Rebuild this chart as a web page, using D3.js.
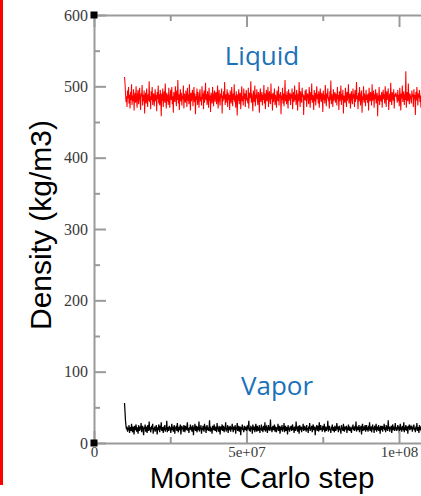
<!DOCTYPE html>
<html>
<head>
<meta charset="utf-8">
<script src="https://cdn.jsdelivr.net/npm/d3@7"></script>
<style>
  html, body { margin: 0; padding: 0; background: #fff; }
  svg { display: block; }
</style>
</head>
<body>
<svg id="chart" width="421" height="496"></svg>
<script>
// Monte Carlo run: sampled every stepSize steps, starting at firstStep
const firstStep = 1e7;
const stepSize = 1.65e5;

// Liquid phase density (kg/m3)
const liquidDensity = [
  513,505,490,478,486,471,494,483,499,476,488,469,492,481,503,474,487,479,496,466,485,491,477,500,482,470,489,495,475,484,
  498,480,467,490,486,502,473,488,479,494,462,485,491,476,497,483,471,489,480,507,478,486,468,493,481,499,474,487,490,472,
  484,496,479,488,465,492,482,501,476,489,473,495,485,458,490,480,497,471,486,493,477,504,483,469,491,479,488,474,498,482,
  470,487,495,481,499,475,486,463,492,484,478,500,488,472,494,481,509,476,489,467,485,496,479,491,473,487,482,501,469,490,
  483,477,494,486,471,498,480,489,475,503,484,466,491,479,487,495,472,485,499,478,490,461,486,481,497,474,492,483,470,488,
  496,479,485,473,500,482,490,468,494,477,486,505,481,489,474,493,484,470,498,480,487,464,491,483,476,499,485,472,489,494,
  478,488,492,475,486,501,469,483,495,480,473,490,484,497,462,487,479,493,482,506,474,489,477,485,496,471,491,481,488,467,
  494,483,476,499,485,472,490,481,503,478,487,470,493,484,459,489,480,496,475,488,491,468,484,500,479,486,473,497,482,490,
  471,487,495,480,484,476,498,469,491,483,486,507,477,490,481,465,494,485,478,501,472,488,483,496,480,474,492,487,463,489,
  497,478,485,492,473,488,481,502,476,490,468,486,495,479,484,499,471,487,493,480,475,504,482,489,466,491,478,485,497,474,
  488,482,470,494,486,479,500,473,489,484,492,461,487,481,498,476,490,472,485,509,479,488,475,493,483,469,496,480,487,491,
  474,489,483,497,468,485,492,478,501,481,488,474,495,484,466,490,479,506,486,471,493,482,477,498,485,489,460,487,481,494,
  480,496,471,487,490,483,475,499,486,470,492,481,504,477,488,484,467,495,479,491,473,486,500,482,489,476,493,470,485,497,
  483,478,491,486,464,494,481,488,476,502,487,472,490,483,497,479,485,469,493,481,508,475,489,484,471,496,480,487,492,477,
  490,485,473,499,482,488,467,493,479,486,501,474,489,481,495,462,487,483,477,498,485,471,492,480,488,503,476,484,490,469,
  486,493,480,475,497,483,489,471,495,478,484,506,482,487,468,491,479,499,485,473,488,494,463,486,481,500,477,490,483,472,
  495,481,488,477,490,466,498,484,479,492,487,473,503,480,485,494,470,489,482,496,476,486,491,458,487,480,499,474,488,484,
  479,492,470,486,495,482,489,476,500,485,471,493,481,488,497,467,484,490,478,505,483,474,492,486,480,496,469,489,485,491,
  489,484,477,495,480,488,472,498,486,466,490,483,501,478,487,493,474,489,481,521,470,486,492,479,504,484,475,490,487,482,
  476,494,485,489,471,496,482,488,460,492,480,499,486,473,490,484,495,478,487,470,493,483,498,481,486,475,491,488,479,494
];

// Vapor phase density (kg/m3)
const vaporDensity = [
  56,44,31,24,19,23,16,21,18,25,14,20,22,17,27,19,15,23,20,12,24,18,21,26,16,22,19,13,25,20,
  17,23,19,28,15,21,24,18,11,22,20,26,16,23,19,14,25,21,17,30,18,22,15,20,24,19,27,13,21,18,
  23,16,20,25,19,12,22,18,26,21,15,24,19,29,17,22,20,14,23,18,25,16,21,19,31,15,22,20,17,24,
  19,22,14,21,27,18,23,16,20,25,13,22,19,24,17,28,20,15,21,23,18,26,12,20,24,19,22,16,25,21,
  15,24,20,18,23,29,17,21,14,22,19,26,18,23,16,20,25,11,22,19,27,17,21,24,15,20,23,18,30,16,
  22,19,25,13,21,18,24,20,16,27,19,23,14,21,25,18,22,17,20,32,16,23,19,21,13,24,20,18,26,22,
  17,21,23,15,28,19,22,16,24,20,12,23,18,21,26,17,20,24,15,22,19,29,16,21,18,25,14,23,20,19,
  24,16,22,19,27,21,15,23,18,20,25,13,22,19,28,17,21,24,16,20,23,11,22,19,26,18,21,15,24,20,
  18,23,20,14,25,19,22,31,17,21,16,24,19,22,13,26,20,18,23,15,21,27,19,16,24,20,22,17,25,14,
  21,19,26,17,22,15,24,20,18,29,16,21,23,19,14,22,25,18,20,17,33,19,22,15,21,24,18,20,26,16,
  23,20,15,22,19,27,17,21,24,13,20,23,18,25,16,22,19,28,15,21,24,17,20,22,12,25,19,21,16,23,
  19,24,17,21,26,18,22,14,23,20,17,30,19,22,16,24,21,13,25,18,20,23,15,22,19,27,17,21,24,18,
  22,16,25,19,21,14,23,20,28,17,22,19,24,15,21,26,18,20,23,11,22,19,25,17,21,24,16,29,20,18,
  25,19,21,16,24,22,18,27,15,20,23,17,22,19,31,16,21,24,18,20,14,23,19,26,17,22,20,15,24,21,
  17,22,28,19,23,15,21,24,18,20,13,25,19,22,17,27,20,16,23,21,19,24,14,22,18,26,20,17,23,19,
  21,14,23,20,26,18,22,17,24,19,30,16,21,23,18,20,25,15,22,19,24,12,21,27,17,23,20,18,25,16,
  20,25,18,22,16,24,19,29,17,21,23,15,20,26,19,22,14,24,18,21,27,16,23,20,19,25,17,22,13,24,
  18,21,24,16,23,20,27,18,22,15,25,19,21,17,32,20,23,16,22,19,24,14,21,26,18,20,23,17,28,19,
  22,17,20,25,19,23,14,21,27,18,22,16,24,20,19,29,15,22,18,25,21,17,23,13,24,20,26,18,21,23,
  19,24,16,22,20,26,18,21,15,23,19,28,17,22,20,14,25,21,18,23,16,24,20,27,19,22,17,21,25,18
];

// Axis ticks and their labels
const xMajorTicks = [0, 5e7, 1e8];
const xTickLabels = ["0", "5e+07", "1e+08"];
const xMinorTicks = [2.5e7, 7.5e7];
const yMajorTicks = [0, 100, 200, 300, 400, 500, 600];
const yTickLabels = ["0", "100", "200", "300", "400", "500", "600"];
const yMinorTicks = [50, 150, 250, 350, 450, 550];

const seriesLabels = ["Liquid", "Vapor"];
const xTitle = "Monte Carlo step";
const yTitle = "Density (kg/m3)";

const svg = d3.select("#chart");
const plotLeft = 94, plotTop = 15, plotBottom = 443;

const x = d3.scaleLinear().domain([0, 1.5e8]).range([plotLeft, plotLeft + 152.5 * 3]);
const y = d3.scaleLinear().domain([0, 600]).range([plotBottom, plotTop]);

const axisGrey = "#9a9a9a";

// red frame edge on the left
svg.append("line")
  .attr("x1", 1.5).attr("x2", 1.5).attr("y1", 0).attr("y2", 485)
  .attr("stroke", "#ff0000").attr("stroke-width", 3);

// data lines, clipped to the plot box
svg.append("clipPath").attr("id", "plotClip")
  .append("rect").attr("x", plotLeft).attr("y", plotTop)
  .attr("width", x(1.5e8) - plotLeft).attr("height", plotBottom - plotTop);

const line = d3.line()
  .x((d, i) => x(firstStep + i * stepSize))
  .y(d => y(d));

const plot = svg.append("g").attr("clip-path", "url(#plotClip)");
plot.append("path").datum(liquidDensity)
  .attr("d", line).attr("fill", "none")
  .attr("stroke", "#ff0000").attr("stroke-width", 1.05);
plot.append("path").datum(vaporDensity)
  .attr("d", line).attr("fill", "none")
  .attr("stroke", "#000000").attr("stroke-width", 1.25);

function styleAxis(g) {
  g.selectAll(".domain").attr("stroke", axisGrey).attr("stroke-width", 2);
  g.selectAll(".tick line").attr("stroke", axisGrey).attr("stroke-width", 2);
  g.selectAll(".tick text")
    .attr("font-family", "'Liberation Serif', 'DejaVu Serif', serif")
    .attr("font-size", 16).attr("fill", "#3a3a3a");
}

// left axis
const yAxis = svg.append("g").attr("transform", `translate(${plotLeft},0)`)
  .call(d3.axisLeft(y).tickValues(yMajorTicks)
    .tickFormat((d, i) => yTickLabels[i]).tickSize(-12).tickSizeOuter(0).tickPadding(6));
styleAxis(yAxis);
svg.append("g").attr("transform", `translate(${plotLeft},0)`)
  .call(d3.axisLeft(y).tickValues(yMinorTicks).tickFormat("").tickSize(-6).tickSizeOuter(0))
  .call(g => { g.select(".domain").remove(); styleAxis(g); });

// bottom axis
const xAxis = svg.append("g").attr("transform", `translate(0,${plotBottom})`)
  .call(d3.axisBottom(x).tickValues(xMajorTicks)
    .tickFormat((d, i) => xTickLabels[i]).tickSize(-12).tickSizeOuter(0).tickPadding(3));
styleAxis(xAxis);
xAxis.selectAll(".tick text").attr("dy", "0.72em").attr("font-size", 15);
svg.append("g").attr("transform", `translate(0,${plotBottom})`)
  .call(d3.axisBottom(x).tickValues(xMinorTicks).tickFormat("").tickSize(-6).tickSizeOuter(0))
  .call(g => { g.select(".domain").remove(); styleAxis(g); });

// top axis (no labels)
svg.append("g").attr("transform", `translate(0,${plotTop})`)
  .call(d3.axisTop(x).tickValues(xMajorTicks).tickFormat("").tickSize(-12).tickSizeOuter(0))
  .call(styleAxis);
svg.append("g").attr("transform", `translate(0,${plotTop})`)
  .call(d3.axisTop(x).tickValues(xMinorTicks).tickFormat("").tickSize(-6).tickSizeOuter(0))
  .call(g => { g.select(".domain").remove(); styleAxis(g); });

// corner markers
[[0, 600], [0, 0]].forEach(([cx, cy]) => {
  svg.append("rect")
    .attr("x", x(cx) - 3.5).attr("y", y(cy) - 3.5)
    .attr("width", 7).attr("height", 7).attr("fill", "#000");
});

// series labels
const labelFont = "'Open Sans', 'Liberation Sans', Arial, sans-serif";
svg.append("text").text(seriesLabels[0])
  .attr("x", 262).attr("y", 65).attr("text-anchor", "middle")
  .attr("font-family", labelFont).attr("font-size", 26).attr("fill", "#1b72b8");
svg.append("text").text(seriesLabels[1])
  .attr("x", 277).attr("y", 395).attr("text-anchor", "middle")
  .attr("font-family", labelFont).attr("font-size", 26).attr("fill", "#1b72b8");

// axis titles
svg.append("text").text(xTitle)
  .attr("x", 262).attr("y", 488).attr("text-anchor", "middle")
  .attr("font-family", "'Liberation Sans', Arial, sans-serif")
  .attr("font-size", 29.5).attr("fill", "#000");
svg.append("text").text(yTitle)
  .attr("transform", "translate(51,225) rotate(-90)")
  .attr("text-anchor", "middle")
  .attr("font-family", "'Liberation Sans', Arial, sans-serif")
  .attr("font-size", 30).attr("fill", "#000");
</script>
</body>
</html>
